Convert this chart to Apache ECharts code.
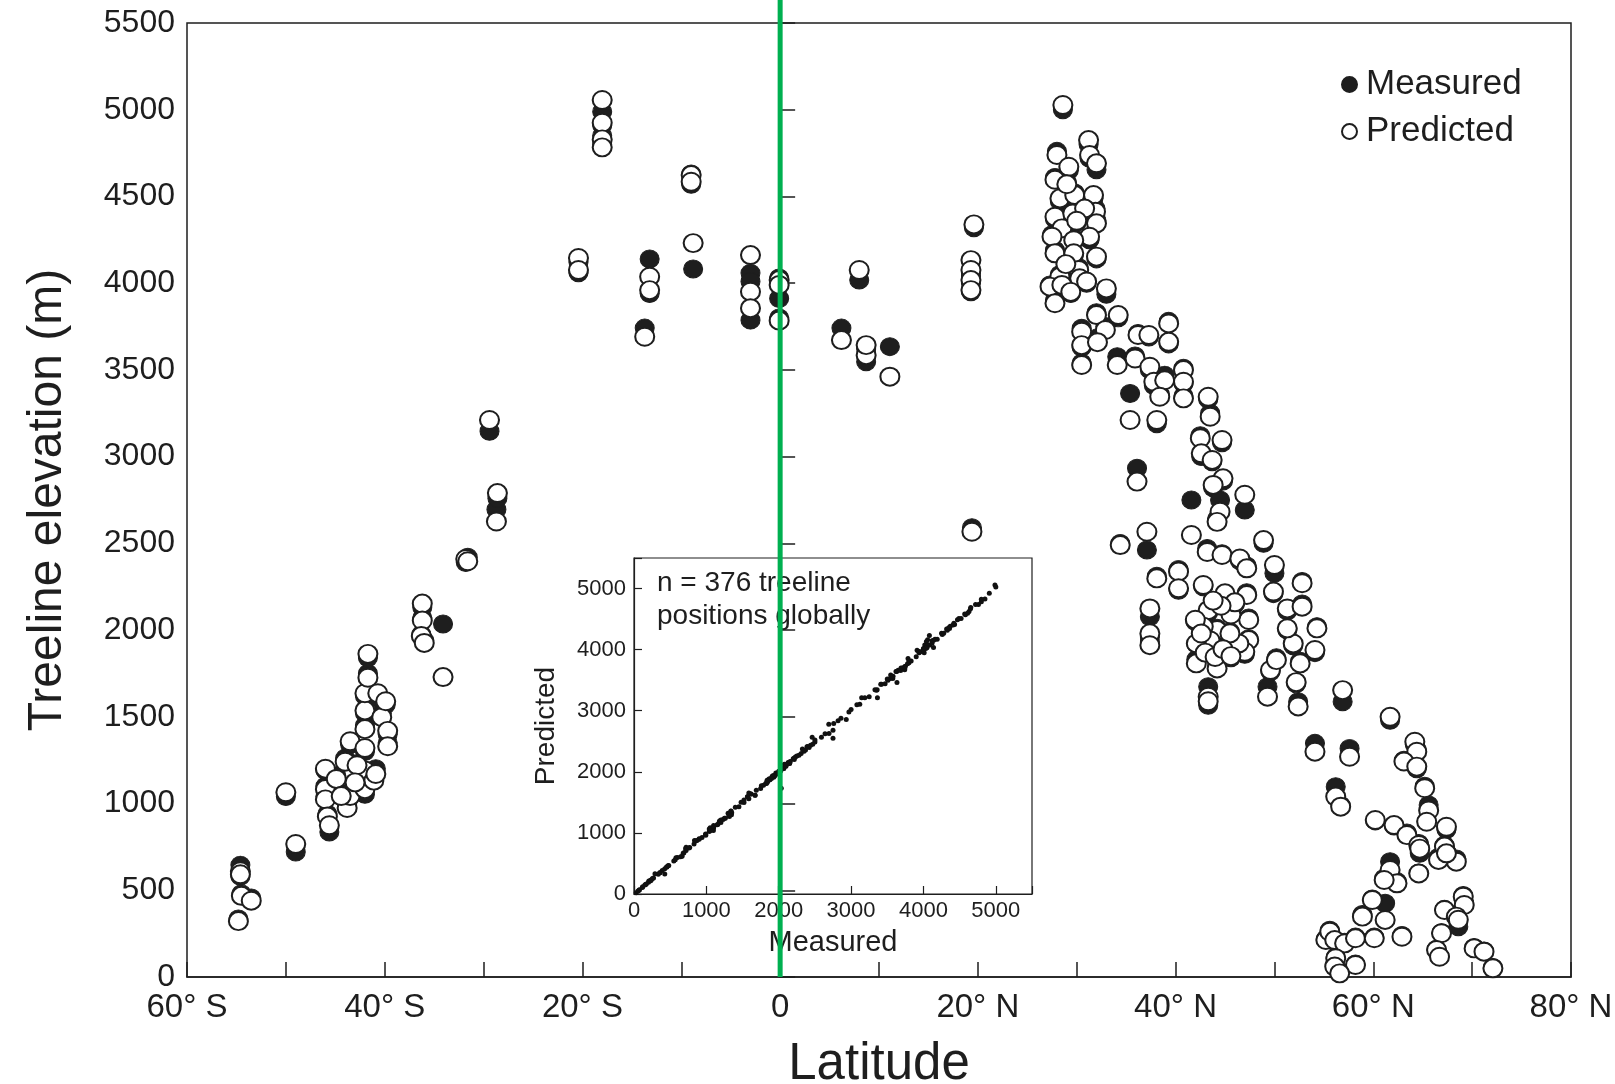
<!DOCTYPE html>
<html>
<head>
<meta charset="utf-8">
<title>Treeline elevation by latitude</title>
<script src="https://cdn.jsdelivr.net/npm/echarts@6/dist/echarts.min.js"></script>
<style>
    html, body { margin: 0; padding: 0; background: #fff; }
    #chart { width: 1615px; height: 1084px; }
</style>
</head>
<body>
<div id="chart"></div>
<script>
// southern hemisphere sites
var southLat = [-54.6, -54.6, -54.5, -53.5, -54.8, -50.0, -49.0, -46.0, -46.0, -46.0, -45.8, -45.6, -44.0, -43.8, -43.5,
    -43.5, -42.0, -42.0, -42.0, -42.0, -42.0, -42.0, -41.7, -41.7, -41.1, -40.9, -40.7, -40.3, -39.9, -39.7,
    -39.7, -42.8, -44.9, -44.4, -43.0, -36.2, -36.2, -36.3, -36.0, -34.1, -31.8, -31.6, -29.4, -28.7, -28.6];
var southMeasured = [645, 580, 480, 455, 335, 1040, 720, 1190, 1100, 1040, 940, 836, 1262, 990, 1340,
    1060, 1053, 1180, 1300, 1450, 1520, 1620, 1750, 1840, 1150, 1201, 1610, 1520, 1570, 1400,
    1350, 1230, 1160, 1060, 1100, 2130, 2070, 1975, 1940, 2035, 2390, 2420, 3146, 2695, 2760];
var southPredicted = [610, 592, 468, 440, 322, 1065, 767, 1201, 1083, 1024, 925, 875, 1241, 974, 1359,
    1043, 1083, 1191, 1320, 1429, 1537, 1636, 1725, 1863, 1132, 1170, 1636, 1498, 1590, 1419,
    1330, 1221, 1142, 1043, 1122, 2153, 2055, 1966, 1926, 1729, 2410, 2397, 3211, 2626, 2790];

// tropical sites
var tropicLat = [-20.4, -20.4, -18.0, -18.0, -18.0, -18.0, -13.2, -13.2, -13.7, -9.0, -9.0, -8.8, -3.0, -3.0, -3.0,
    -0.1, -0.1, -0.1, 8.0, 6.2, 8.7, 8.7, 11.1, 19.6, 19.3, 19.3, 19.3, 19.3, 19.4];
var tropicMeasured = [4120, 4060, 4988, 4910, 4850, 4800, 4139, 3940, 3741, 4630, 4570, 4082, 4058, 4010, 3787,
    4030, 3912, 3800, 4018, 3741, 3547, 3620, 3634, 4320, 4041, 4060, 4000, 3950, 2590];
var tropicPredicted = [4145, 4076, 5056, 4925, 4829, 4783, 4037, 3960, 3691, 4623, 4585, 4231, 4162, 3951, 3856,
    4018, 3990, 3784, 4076, 3672, 3585, 3643, 3461, 4339, 4133, 4076, 4018, 3960, 2567];

// northern high sites
var highLat = [28.6, 31.2, 28.0, 29.2, 31.3, 32.0, 27.8, 28.3, 29.8, 31.7, 31.9, 27.8, 29.6, 32.0, 31.3,
    28.5, 29.7, 27.5, 27.8, 29.7, 32.0, 30.2, 28.3, 27.3, 27.8, 30.3, 28.5, 33.0, 32.0, 34.2,
    30.5, 30.5, 30.5, 32.9, 32.1, 36.2, 37.3, 39.3, 39.3, 34.1, 35.9, 37.4, 37.8, 38.9, 40.8,
    40.8, 40.8, 38.4, 35.4, 38.1, 29.0, 30.8, 28.9, 31.0, 29.4, 30.0];
var highMeasured = [5000, 4800, 4760, 4650, 4720, 4654, 4610, 4470, 4520, 4490, 4430, 4370, 4410, 4360, 4250,
    4330, 4260, 4280, 4190, 4160, 4140, 4090, 4050, 3990, 3900, 4040, 4000, 3936, 3830, 3800,
    3740, 3630, 3540, 3750, 3685, 3710, 3690, 3780, 3650, 3576, 3580, 3500, 3410, 3470, 3510,
    3420, 3350, 3360, 3364, 3190, 4580, 4420, 4120, 4000, 3940, 4350];
var highPredicted = [5027, 4825, 4739, 4671, 4739, 4691, 4596, 4489, 4508, 4508, 4412, 4383, 4402, 4345, 4268,
    4316, 4248, 4268, 4172, 4172, 4153, 4076, 4037, 3980, 3884, 4028, 3990, 3970, 3816, 3816,
    3720, 3643, 3528, 3730, 3660, 3701, 3701, 3768, 3662, 3528, 3566, 3518, 3432, 3440, 3499,
    3432, 3336, 3345, 3211, 3211, 4570, 4430, 4110, 4010, 3950, 4360];

// northern mid-latitude sites
var midLat = [43.3, 43.5, 42.5, 44.7, 42.6, 43.7, 36.1, 44.8, 43.8, 47.0, 41.6, 44.5, 44.2, 34.4, 37.1,
    43.2, 44.7, 48.9, 50.0, 46.5, 47.2, 38.1, 40.3, 40.3, 42.8, 45.0, 47.2, 49.9, 52.8, 51.3,
    52.8, 54.3, 37.4, 37.4, 37.4, 43.3, 44.2, 42.8, 43.5, 42.1, 42.1, 44.2, 47.4, 47.4, 47.0,
    46.4, 45.5, 51.9, 52.6, 54.1, 51.3, 49.6, 50.2, 49.3, 43.3, 43.3, 52.4, 52.2, 56.9, 42.0,
    42.6, 43.0, 44.0, 44.8, 45.6, 45.6, 46.0, 44.6, 43.8];
var midMeasured = [3330, 3250, 3120, 3080, 3000, 2970, 2933, 2860, 2820, 2692, 2750, 2750, 2640, 2500, 2462,
    2470, 2440, 2500, 2327, 2400, 2370, 2310, 2350, 2230, 2250, 2200, 2215, 2210, 2280, 2110,
    2150, 2020, 2077, 1960, 1930, 2100, 2010, 2030, 1923, 1920, 1830, 1790, 2070, 1950, 1860,
    1910, 1990, 1910, 1820, 1870, 2000, 1760, 1840, 1673, 1673, 1567, 1587, 1690, 1587, 2050,
    1990, 1880, 1850, 1900, 2100, 1840, 2150, 2150, 2160];
var midPredicted = [3345, 3230, 3106, 3096, 3019, 2981, 2856, 2875, 2837, 2780, 2548, 2682, 2624, 2490, 2567,
    2450, 2433, 2519, 2375, 2413, 2356, 2298, 2337, 2241, 2260, 2212, 2202, 2222, 2270, 2125,
    2135, 2010, 2125, 1981, 1913, 2115, 2000, 2020, 1940, 1923, 1808, 1779, 2058, 1942, 1875,
    1923, 1981, 1923, 1808, 1885, 2010, 1770, 1827, 1616, 1616, 1590, 1560, 1700, 1654, 2060,
    1980, 1870, 1845, 1890, 2090, 1850, 2160, 2140, 2170];

// boreal / subarctic sites
var borealLat = [61.7, 54.1, 57.6, 64.2, 64.4, 63.1, 64.4, 65.2, 65.6, 65.4, 56.2, 56.7, 60.2, 62.1, 63.4,
    64.6, 64.7, 67.4, 67.2, 68.4, 66.6, 67.4, 61.7, 62.4, 64.6, 61.1, 59.9, 61.2, 58.9, 55.2,
    55.6, 56.1, 57.1, 58.2, 60.1, 62.9, 56.2, 56.1, 58.2, 56.6, 69.1, 69.2, 67.2, 68.4, 68.6,
    66.9, 66.4, 66.7, 70.2, 71.2, 72.1];
var borealMeasured = [1480, 1347, 1318, 1340, 1310, 1250, 1200, 1100, 992, 900, 1097, 990, 900, 870, 830,
    770, 713, 850, 760, 680, 690, 720, 665, 550, 600, 570, 450, 425, 360, 220,
    270, 205, 200, 230, 230, 240, 115, 70, 75, 30, 470, 425, 390, 355, 290,
    255, 160, 120, 170, 150, 55];
var borealPredicted = [1500, 1299, 1270, 1356, 1299, 1242, 1213, 1088, 960, 895, 1040, 982, 905, 876, 818,
    761, 740, 866, 752, 665, 675, 713, 617, 540, 597, 559, 444, 329, 348, 213,
    261, 213, 194, 223, 223, 232, 108, 60, 69, 21, 463, 415, 386, 348, 330,
    252, 156, 117, 165, 146, 50];

var legendNames = ['Measured', 'Predicted'];
var insetNote = 'n = 376 treeline\npositions globally';

window.addEventListener('load', function () {
    b();

    function b() {
        var h = echarts.init(document.getElementById('chart'));
        var font = '"Liberation Sans", Arial, Helvetica, sans-serif';
        var ink = '#1e1e1e';

        var lat = southLat.concat(tropicLat, highLat, midLat, borealLat);
        var measured = southMeasured.concat(tropicMeasured, highMeasured, midMeasured, borealMeasured);
        var predicted = southPredicted.concat(tropicPredicted, highPredicted, midPredicted, borealPredicted);

        var measuredPts = [], predictedPts = [], insetPts = [];
        for (var i = 0; i < lat.length; i++) {
            measuredPts.push([lat[i], measured[i]]);
            predictedPts.push([lat[i], predicted[i]]);
            insetPts.push([measured[i], predicted[i]]);
        }

        var latLabel = function (v) {
            if (v % 20 !== 0) return '';
            if (v < 0) return (-v) + '° S';
            if (v > 0) return v + '° N';
            return '0';
        };
        var plainLabel = function (v) {
            return String(v);
        };
        var insetLabel = function (v) {
            return v % 1000 === 0 ? String(v) : '';
        };

        option = {
            backgroundColor: '#fff',
            animation: false,
            title: {
                text: insetNote,
                left: 652,
                top: 562,
                textStyle: {
                    fontSize: 28,
                    fontWeight: 'normal',
                    lineHeight: 33,
                    color: ink,
                    fontFamily: font
                }
            },
            legend: {
                data: legendNames,
                orient: 'vertical',
                left: 1336,
                top: 62,
                itemWidth: 15,
                itemHeight: 15,
                itemGap: 12,
                icon: 'circle',
                textStyle: {
                    fontSize: 35,
                    lineHeight: 34,
                    padding: [0, 0, 0, 4],
                    color: ink,
                    fontFamily: font
                }
            },
            grid: [{
                left: 187,
                top: 23,
                right: 44,
                bottom: 107,
                outerBoundsMode: 'none',
                containLabel: false,
                show: true,
                borderColor: ink,
                borderWidth: 1.5
            }, {
                left: 634,
                top: 558,
                width: 398,
                height: 336,
                outerBoundsMode: 'none',
                containLabel: false,
                show: true,
                backgroundColor: '#fff',
                borderColor: ink,
                borderWidth: 1.2
            }],
            xAxis: [{
                gridIndex: 0,
                type: 'value',
                min: -60,
                max: 80,
                interval: 10,
                name: 'Latitude',
                nameLocation: 'middle',
                nameGap: 62,
                nameTextStyle: { fontSize: 51, color: ink, fontFamily: font },
                axisLine: { lineStyle: { color: ink, width: 1.5 } },
                axisTick: { inside: true, length: 15, lineStyle: { color: ink, width: 1.5 } },
                axisLabel: { margin: 14, fontSize: 33, color: ink, fontFamily: font, formatter: latLabel },
                splitLine: { show: false }
            }, {
                gridIndex: 1,
                type: 'value',
                min: 0,
                max: 5500,
                interval: 1000,
                name: 'Measured',
                nameLocation: 'middle',
                nameGap: 34,
                nameTextStyle: { fontSize: 29, color: ink, fontFamily: font },
                axisLine: { lineStyle: { color: ink, width: 1.2 } },
                axisTick: { inside: true, length: 8, lineStyle: { color: ink, width: 1.2 } },
                axisLabel: { margin: 6, fontSize: 22, color: ink, fontFamily: font, formatter: insetLabel },
                splitLine: { show: false }
            }],
            yAxis: [{
                gridIndex: 0,
                type: 'value',
                min: 0,
                max: 5500,
                interval: 500,
                name: 'Treeline elevation (m)',
                nameLocation: 'middle',
                nameGap: 115,
                nameTextStyle: { fontSize: 48, color: ink, fontFamily: font },
                axisLine: { lineStyle: { color: ink, width: 1.5 } },
                axisTick: { inside: true, length: 15, lineStyle: { color: ink, width: 1.5 } },
                axisLabel: { margin: 12, fontSize: 32, color: ink, fontFamily: font, formatter: plainLabel },
                splitLine: { show: false }
            }, {
                gridIndex: 1,
                type: 'value',
                min: 0,
                max: 5500,
                interval: 1000,
                name: 'Predicted',
                nameLocation: 'middle',
                nameGap: 74,
                nameTextStyle: { fontSize: 28, color: ink, fontFamily: font },
                axisLine: { lineStyle: { color: ink, width: 1.2 } },
                axisTick: { inside: true, length: 8, lineStyle: { color: ink, width: 1.2 } },
                axisLabel: { margin: 8, fontSize: 22, color: ink, fontFamily: font, formatter: insetLabel },
                splitLine: { show: false }
            }],
            series: [{
                name: 'Measured',
                type: 'scatter',
                xAxisIndex: 0,
                yAxisIndex: 0,
                data: measuredPts,
                symbol: 'circle',
                symbolSize: [19, 18],
                itemStyle: { color: ink, borderColor: ink, borderWidth: 1, opacity: 1 },
                z: 2
            }, {
                name: 'Predicted',
                type: 'scatter',
                xAxisIndex: 0,
                yAxisIndex: 0,
                data: predictedPts,
                symbol: 'circle',
                symbolSize: [19, 18],
                itemStyle: { color: '#fff', borderColor: ink, borderWidth: 2, opacity: 1 },
                z: 3
            }, {
                name: 'inset',
                type: 'scatter',
                xAxisIndex: 1,
                yAxisIndex: 1,
                data: insetPts,
                symbol: 'circle',
                symbolSize: 5,
                itemStyle: { color: '#111', opacity: 1 },
                silent: true,
                z: 4
            }]
        };
        h.setOption(option);

        // green marker line at the equator, from the top edge down to the x axis
        var p = h.convertToPixel({ gridIndex: 0 }, [0, 0]);
        h.setOption({
            graphic: [{
                type: 'line',
                z: 100,
                shape: { x1: p[0], y1: 0, x2: p[0], y2: p[1] },
                style: { stroke: '#00b050', lineWidth: 5 }
            }]
        });

        window.addEventListener('resize', function () {
            h.resize();
        });
    }
});
</script>
</body>
</html>
